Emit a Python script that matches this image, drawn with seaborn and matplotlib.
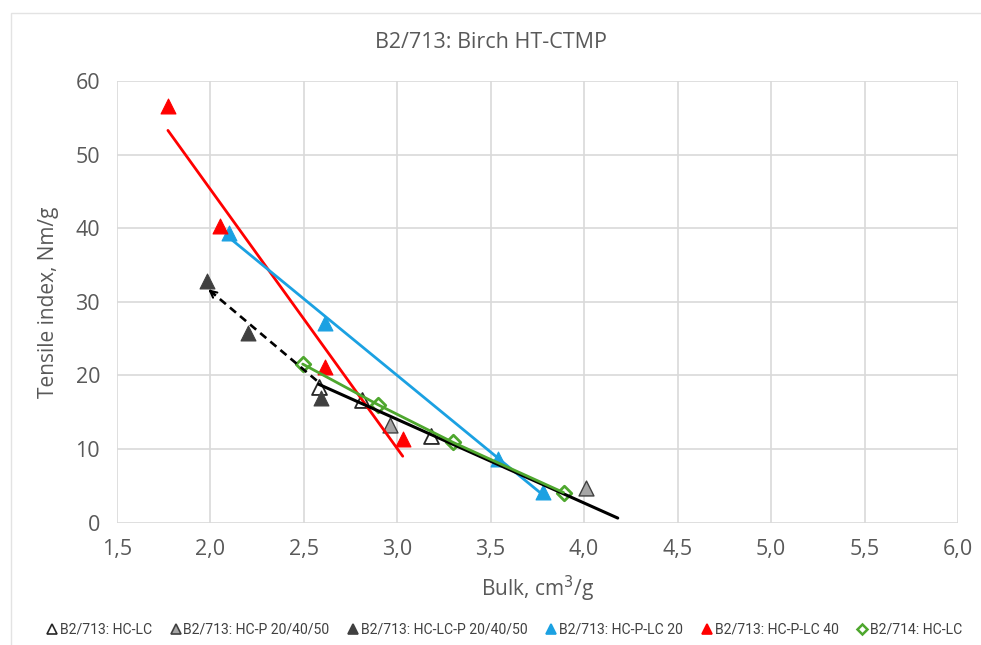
import numpy as np
import pandas as pd
import matplotlib
matplotlib.use("Agg")
import matplotlib.pyplot as plt
from matplotlib.lines import Line2D
from matplotlib.ticker import FuncFormatter
from matplotlib.patches import Rectangle
import seaborn as sns

# ---------------- data ----------------
title = "B2/713: Birch HT-CTMP"
x_label = "Bulk, cm$^3$/g"
y_label = "Tensile index, Nm/g"

series_names = [
    "B2/713: HC-LC",
    "B2/713: HC-P 20/40/50",
    "B2/713: HC-LC-P 20/40/50",
    "B2/713: HC-P-LC 20",
    "B2/713: HC-P-LC 40",
    "B2/714: HC-LC",
]

hc_lc_x = [2.58, 2.81, 3.18]
hc_lc_y = [18.5, 16.7, 11.8]

hc_p_x = [2.96, 4.01]
hc_p_y = [13.3, 4.7]

hc_lc_p_x = [1.985, 2.204, 2.593]
hc_lc_p_y = [32.9, 25.8, 17.0]

hc_p_lc20_x = [2.102, 2.614, 3.54, 3.78]
hc_p_lc20_y = [39.4, 27.1, 8.6, 4.2]

hc_p_lc40_x = [1.774, 2.052, 2.614, 3.03]
hc_p_lc40_y = [56.6, 40.3, 21.2, 11.4]

b714_hc_lc_x = [2.495, 2.90, 3.30, 3.89]
b714_hc_lc_y = [21.55, 16.0, 10.9, 4.1]

# dashed extrapolation arrow (tail -> tip), data units
arrow_tail = (2.57, 19.3)
arrow_tip = (1.99, 31.7)

# forward forecast of HC-LC linear trendline (x units)
hc_lc_forecast = 1.0

x_ticks = [1.5, 2.0, 2.5, 3.0, 3.5, 4.0, 4.5, 5.0, 5.5, 6.0]
y_ticks = [0, 10, 20, 30, 40, 50, 60]

# ---------------- style ----------------
sns.set_theme(style="white")
plt.rcParams["font.family"] = ["Open Sans", "DejaVu Sans"]

TXT = "#595959"
GRID = "#D9D9D9"
BLUE = "#1BA1E2"
RED = "#FF0000"
GREEN = "#4EA72E"
DARK = "#404040"
GRAY = "#A6A6A6"

fig = plt.figure(figsize=(9.81, 6.45), dpi=100)
ax = fig.add_axes([116.7 / 981, 1 - 522.7 / 645, (958 - 116.7) / 981, (522.7 - 81) / 645])

# outer chart frame
fig.patches.append(Rectangle((11 / 981, -0.05), 1.2, 1 - 13 / 645 + 0.05,
                             transform=fig.transFigure, fill=False,
                             edgecolor="#E3E3E3", lw=1.0, zorder=0))

ax.set_xlim(x_ticks[0], x_ticks[-1])
ax.set_ylim(y_ticks[0], y_ticks[-1])
ax.set_xticks(x_ticks)
ax.set_yticks(y_ticks)
ax.xaxis.set_major_formatter(FuncFormatter(lambda v, p: f"{v:.1f}".replace(".", ",")))
ax.yaxis.set_major_formatter(FuncFormatter(lambda v, p: f"{v:.0f}"))
ax.grid(True, color=GRID, lw=1.2)
ax.set_axisbelow(True)
for s in ax.spines.values():
    s.set_visible(False)
ax.tick_params(axis="both", length=0, labelsize=15.5, colors=TXT, pad=12)

specs = [
    (hc_lc_x, hc_lc_y, series_names[0], "^", "white", "#262626", 1.3),
    (hc_p_x, hc_p_y, series_names[1], "^", GRAY, "#404040", 1.0),
    (hc_lc_p_x, hc_lc_p_y, series_names[2], "^", DARK, DARK, 0.8),
    (hc_p_lc20_x, hc_p_lc20_y, series_names[3], "^", BLUE, BLUE, 0.8),
    (hc_p_lc40_x, hc_p_lc40_y, series_names[4], "^", RED, RED, 0.8),
    (b714_hc_lc_x, b714_hc_lc_y, series_names[5], "D", "white", GREEN, 2.0),
]

for xs, ys, name, mk, fc, ec, lw in specs:
    df = pd.DataFrame({"x": xs, "y": ys})
    size = 55 if mk == "D" else 115
    sns.scatterplot(data=df, x="x", y="y", marker=mk, s=size, color=fc,
                    edgecolor=ec, linewidth=lw, ax=ax, zorder=3, legend=False)

# linear trendlines
def trend(xs, ys, x0, x1):
    k, b = np.polyfit(xs, ys, 1)
    xx = np.array([x0, x1])
    return pd.DataFrame({"x": xx, "y": k * xx + b})

t40 = trend(hc_p_lc40_x, hc_p_lc40_y, min(hc_p_lc40_x), max(hc_p_lc40_x))
sns.lineplot(data=t40, x="x", y="y", color=RED, lw=2.0, ax=ax, zorder=4)
t20 = trend(hc_p_lc20_x, hc_p_lc20_y, min(hc_p_lc20_x), max(hc_p_lc20_x))
sns.lineplot(data=t20, x="x", y="y", color=BLUE, lw=2.0, ax=ax, zorder=4)
tlc = trend(hc_lc_x, hc_lc_y, min(hc_lc_x), max(hc_lc_x) + hc_lc_forecast)
sns.lineplot(data=tlc, x="x", y="y", color="black", lw=2.2, ax=ax, zorder=4)

# green connecting line
g = pd.DataFrame({"x": b714_hc_lc_x, "y": b714_hc_lc_y})
sns.lineplot(data=g, x="x", y="y", color=GREEN, lw=2.0, ax=ax, zorder=5, sort=False)

# dashed arrow
ax.plot([arrow_tail[0], arrow_tip[0]], [arrow_tail[1], arrow_tip[1]],
        color="black", lw=1.9, ls=(0, (3, 2)), zorder=4)
dx = arrow_tip[0] - arrow_tail[0]
dy = arrow_tip[1] - arrow_tail[1]
ax.annotate("", xy=arrow_tip, xytext=(arrow_tip[0] - 0.06 * dx, arrow_tip[1] - 0.06 * dy),
            arrowprops=dict(arrowstyle="->", color="black", lw=1.5,
                            mutation_scale=12, shrinkA=0, shrinkB=0), zorder=4)

ax.set_xlabel(x_label, fontsize=15, color=TXT, labelpad=10)
ax.set_ylabel(y_label, fontsize=15, color=TXT, labelpad=12)
fig.text(0.5, 1 - 42 / 645, title, ha="center", va="center", fontsize=15.5, color=TXT)

handles = []
for xs, ys, name, mk, fc, ec, lw in specs:
    handles.append(Line2D([], [], ls="none", marker=mk, markersize=7 if mk == "^" else 5.5,
                          markerfacecolor=fc, markeredgecolor=ec,
                          markeredgewidth=1.2 if mk == "^" else 1.8))
fig.legend(handles, series_names, loc="center", bbox_to_anchor=(0.514, 1 - 630 / 645),
           ncol=6, frameon=False, handlelength=0.8, handletextpad=0.15,
           columnspacing=1.3, labelcolor="#404040",
           prop={"family": ["Roboto", "DejaVu Sans"], "size": 10.1})

fig.savefig("out.png", dpi=100, facecolor="white")
